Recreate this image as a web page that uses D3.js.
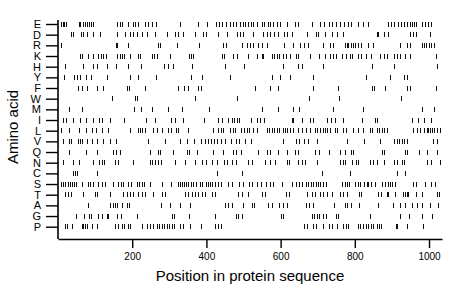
<!DOCTYPE html>
<html><head><meta charset="utf-8">
<script src="https://cdn.jsdelivr.net/npm/d3@7"></script>
<style>body{margin:0;background:#fff}svg{display:block}</style>
</head><body><svg id="c" width="460" height="299"></svg>
<script>
const aminoAcids = ["E","D","R","K","H","Y","F","W","M","I","L","V","Q","N","C","S","T","A","G","P"];
const xTicks = [200,400,600,800,1000];
const seqLength = 1035;

const posE = [9,13,16,21,56,60,68,73,78,84,89,94,159,166,173,189,201,208,216,234,242,253,263,329,377,401,426,434,443,453,464,472,480,491,498,504,513,519,526,536,549,556,567,571,579,589,598,616,639,648,684,706,718,730,738,749,760,772,782,790,809,823,835,890,897,906,917,924,933,941,948,953,959,966,982,989,998,1005];
const posD = [35,40,62,67,79,94,113,160,181,194,203,212,226,241,261,293,315,323,338,369,392,398,432,455,483,490,498,525,553,562,571,582,594,609,618,630,672,695,702,720,738,753,769,859,863,879,889,949,958,964,1003];
const posR = [9,155,160,189,269,275,320,380,446,452,495,509,517,526,540,549,562,609,633,652,663,675,713,733,742,773,780,782,789,795,801,808,817,836,850,922,942,949,980,986,993,999,1005,1013];
const posK = [60,65,80,94,107,116,122,129,158,167,172,178,194,215,221,253,259,266,302,353,358,365,443,448,472,482,513,536,549,553,576,582,589,596,606,614,625,641,648,679,704,720,733,740,749,765,776,787,793,809,817,829,844,868,879,886,906,915,922,935,949,1018];
const posH = [19,68,95,104,131,156,188,224,286,297,311,360,450,501,606,648,657,713,845,906,1021];
const posY = [17,43,52,59,75,88,131,194,215,263,358,389,464,576,598,625,686,829,895,933,940];
const posF = [53,64,77,104,122,185,191,234,323,340,351,376,385,531,571,592,688,755,845,852,881,940,949,1018];
const posW = [145,208,214,369,483,677,758,924];
const posM = [30,64,206,224,253,297,333,407,549,594,633,650,742,823,982,1014];
const posI = [14,21,40,59,75,94,111,118,140,179,236,261,305,315,338,394,432,441,459,468,474,482,489,519,537,544,556,630,634,659,679,686,726,735,747,767,820,854,859,953,969,987,1005];
const posL = [8,30,57,75,91,102,118,136,194,215,221,227,234,257,266,279,297,305,317,324,350,419,432,439,445,464,472,477,492,501,509,516,525,537,562,569,576,582,589,596,606,612,618,625,634,648,657,668,679,693,699,706,713,720,726,733,747,753,769,776,796,808,823,841,847,859,865,872,879,886,958,967,976,987,994,998,1003,1009,1014,1021,1029];
const posV = [14,30,34,55,59,64,79,92,104,122,140,156,242,288,329,347,367,385,396,405,412,420,428,439,450,466,480,489,504,519,607,641,650,663,675,699,778,825,868,906,913,919,926,933,940,1011,1021];
const posQ = [30,75,104,149,156,167,248,269,275,311,347,353,374,419,446,472,480,492,540,564,571,594,618,639,648,693,704,731,760,773,791,796,874,879,935,942,973,994,1021];
const posN = [13,40,57,94,111,118,125,154,161,203,248,254,261,270,278,315,342,369,389,398,414,428,448,455,468,480,513,522,558,571,585,616,623,648,657,666,699,760,767,773,793,802,809,841,850,859,879,906,913,926,933,994,1005,1029];
const posC = [40,46,52,104,428,495,711,787,913,935];
const posS = [7,14,19,28,32,37,43,49,64,82,86,95,109,118,127,149,163,170,176,189,197,212,218,226,233,248,279,305,323,329,333,340,344,350,358,365,371,383,389,398,403,410,416,423,432,439,457,470,489,498,516,522,536,546,561,571,580,603,630,641,650,659,668,675,681,688,695,702,706,715,722,765,773,780,784,800,808,813,825,832,836,844,854,872,881,889,895,901,908,958,964,989,1005,1016];
const posT = [19,28,34,67,100,104,140,176,185,194,203,216,226,234,257,279,288,342,351,360,369,378,389,396,414,423,486,495,513,549,558,614,623,670,684,693,706,715,726,738,760,767,778,811,817,862,870,886,890,908,931,935,940,944,964,982,1021,1027];
const posA = [82,140,147,154,158,172,185,191,278,302,329,356,450,459,468,499,522,528,567,576,596,607,618,668,677,686,744,773,780,790,811,863,904,922,935,953,967,980,1003,1025];
const posG = [49,70,84,88,109,118,131,136,158,170,212,306,313,353,423,480,486,495,600,606,684,690,697,704,715,722,749,755,841,922,946,982,1009];
const posP = [19,23,37,64,68,73,79,91,104,154,161,172,179,188,194,226,239,248,257,266,272,279,286,293,299,306,313,329,338,356,385,423,432,439,663,670,688,695,715,731,738,751,769,776,781,808,814,823,829,836,844,850,859,865,870,910,915,940,984];

const positions = {E:posE,D:posD,R:posR,K:posK,H:posH,Y:posY,F:posF,W:posW,M:posM,I:posI,L:posL,V:posV,Q:posQ,N:posN,C:posC,S:posS,T:posT,A:posA,G:posG,P:posP};

const svg = d3.select("#c");
const font = "'Liberation Sans', Arial, Helvetica, sans-serif";
const plotLeft = 58, plotRight = 442, plotTop = 20, plotBottom = 239;

const x = d3.scaleLinear().domain([0, seqLength]).range([plotLeft, plotRight]);
const y = d3.scalePoint().domain(aminoAcids).range([24, 226.7]);

// marks
const data = [];
aminoAcids.forEach(a => positions[a].forEach(p => data.push({a, p})));
svg.append("g").selectAll("rect").data(data).join("rect")
  .attr("x", d => Math.round(x(d.p)))
  .attr("y", d => Math.round(y(d.a) - 2.5))
  .attr("width", 1).attr("height", 5)
  .attr("fill", "#111")
  .attr("shape-rendering", "crispEdges");

// y axis
const yAxis = svg.append("g").attr("transform", `translate(${plotLeft},0)`)
  .call(d3.axisLeft(y).tickSize(12).tickPadding(5).tickSizeOuter(0));
yAxis.select(".domain").remove();
yAxis.selectAll(".tick line").attr("stroke", "#000").attr("stroke-width", 1.4);
yAxis.selectAll(".tick text").attr("font-family", font).attr("font-size", 11).attr("fill", "#000");
svg.append("line").attr("x1", plotLeft).attr("x2", plotLeft).attr("y1", plotTop).attr("y2", plotBottom)
  .attr("stroke", "#000").attr("stroke-width", 1.6);

// x axis
const xAxis = svg.append("g").attr("transform", `translate(0,${plotBottom})`)
  .call(d3.axisBottom(x).tickValues(xTicks).tickFormat(d3.format("d")).tickSize(9).tickPadding(5).tickSizeOuter(0));
xAxis.select(".domain").attr("stroke", "#000").attr("stroke-width", 1.6);
xAxis.selectAll(".tick line").attr("stroke", "#000").attr("stroke-width", 1.4);
xAxis.selectAll(".tick text").attr("font-family", font).attr("font-size", 10).attr("fill", "#000");

// titles
svg.append("text").attr("x", 250).attr("y", 281).attr("text-anchor", "middle")
  .attr("font-family", font).attr("font-size", 15).text("Position in protein sequence");
svg.append("text").attr("transform", "translate(18,127) rotate(-90)").attr("text-anchor", "middle")
  .attr("font-family", font).attr("font-size", 15).text("Amino acid");
</script></body></html>
